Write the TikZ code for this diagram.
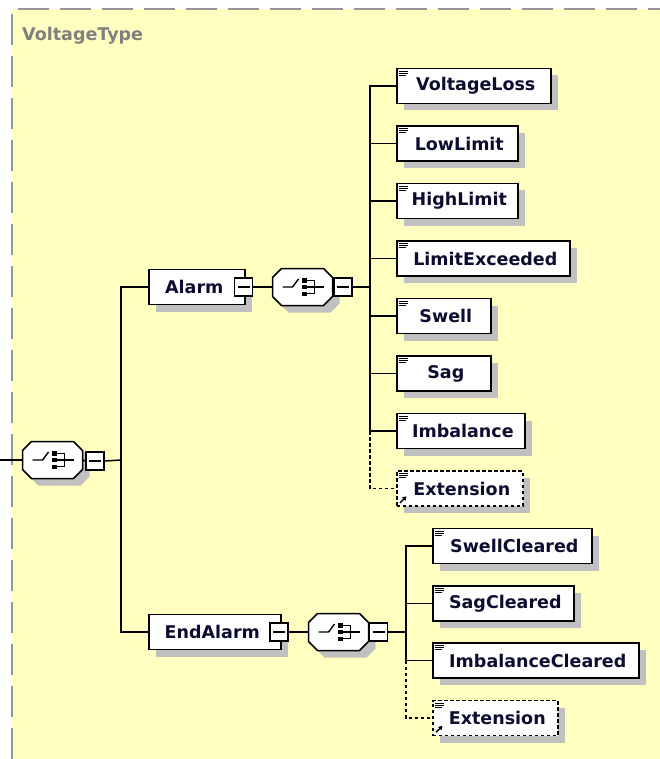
\documentclass[tikz,border=0pt]{standalone}
\usepackage{fontspec}
\setmainfont{DejaVu Sans}
\usetikzlibrary{shadows,calc,arrows.meta}
\definecolor{bgy}{RGB}{255,255,192}
\definecolor{shad}{RGB}{192,192,192}
\definecolor{txt}{RGB}{12,12,50}
\definecolor{bord}{RGB}{150,150,150}
\definecolor{lbl}{RGB}{128,128,128}
\begin{document}
\begin{tikzpicture}[x=1pt,y=-1pt,
  conn/.style={line width=1.5pt},
  dconn/.style={line width=1.5pt, dash pattern=on 3.5pt off 2.5pt},
  elem/.style={draw, line width=1.6pt, fill=white, anchor=west, minimum height=35pt,
    inner sep=0pt, font=\bfseries\fontsize{17.5}{21}\selectfont, text=txt,
    drop shadow={shadow xshift=7pt, shadow yshift=-7pt, fill=shad, opacity=1}},
  extbox/.style={elem, dash pattern=on 3.5pt off 2.5pt},
  minus/.style={draw, line width=1.5pt, fill=white, minimum size=18pt, inner sep=0pt,
    path picture={\draw[line width=1.4pt] ([xshift=-6pt]path picture bounding box.center) -- ([xshift=6pt]path picture bounding box.center);}},
  chbox/.style={minimum width=60pt, minimum height=37pt, inner sep=0pt},
  choice/.pic={
    \fill[shad, shift={(7,7)}] (-21,-18.5) -- (21,-18.5) -- (30,-9.5) -- (30,9.5) -- (21,18.5) -- (-21,18.5) -- (-30,9.5) -- (-30,-9.5) -- cycle;
    \draw[fill=white, line width=1.5pt] (-21,-18.5) -- (21,-18.5) -- (30,-9.5) -- (30,9.5) -- (21,18.5) -- (-21,18.5) -- (-30,9.5) -- (-30,-9.5) -- cycle;
    \draw[line width=1.4pt] (-20,0) -- (-10,0) -- (-4,-8);
    \fill (-1,-9) rectangle (4,-4.5);
    \fill (-1,-2.3) rectangle (4,2.3);
    \fill (-1,4.5) rectangle (4,9);
    \draw[line width=1.4pt] (4,-6.7) -- (12,-6.7) -- (12,6.7) -- (4,6.7);
    \draw[line width=1.4pt] (4,0) -- (21,0);
  },
  elicon/.pic={
    \draw[line width=1pt] (3,3.5) -- (12,3.5) (3,5.5) -- (12,5.5) (3,7.5) -- (10,7.5);
  }
]
\useasboundingbox (0,0) rectangle (660,759);
\fill[bgy] (12,9) rectangle (660,759);
\draw[bord, line width=2pt, dash pattern=on 31pt off 11pt] (12,759) -- (12,9) -- (660,9);
\node[anchor=base west, text=lbl, font=\bfseries\fontsize{17.5}{21}\selectfont, inner sep=0pt] (title) at (22,41) {VoltageType};

% root choice
\coordinate (lft) at (0,460);
\node[chbox] (c0) at (52.5,460) {};
\pic at (c0) {choice};
\node[minus] (m0) at (95,461) {};
\coordinate (j0) at (121,460);
\draw[conn] (lft) -- (c0.west);
\draw[conn] (c0.east) -- (m0.west);
\draw[conn] (m0.east) -- (j0);

% Alarm branch
\node[elem, minimum width=96pt] (alarm) at (148,287) {Alarm\hspace*{5pt}};
\node[minus] (ma) at (243.5,287) {};
\node[chbox] (ca) at (302.5,287) {};
\pic at (ca) {choice};
\node[minus] (mca) at (343,287) {};
\coordinate (ja) at (370,287);
\draw[conn] (j0) |- (alarm.west);
\draw[conn] (ma.east) -- (ca.west);
\draw[conn] (ca.east) -- (mca.west);
\draw[conn] (mca.east) -- (ja);

\node[elem, minimum width=154pt] (e1) at (396,86) {\hspace*{4pt}VoltageLoss};
\node[elem, minimum width=121pt] (e2) at (396,143.5) {\hspace*{4pt}LowLimit};
\node[elem, minimum width=121pt] (e3) at (396,201) {\hspace*{4pt}HighLimit};
\node[elem, minimum width=173pt] (e4) at (396,258.5) {\hspace*{4pt}LimitExceeded};
\node[elem, minimum width=94pt] (e5) at (396,316) {\hspace*{4pt}Swell};
\node[elem, minimum width=94pt] (e6) at (396,373.5) {\hspace*{4pt}Sag};
\node[elem, minimum width=128pt] (e7) at (396,431) {\hspace*{4pt}Imbalance};
\node[extbox, minimum width=126pt] (x1) at (396,488.5) {\hspace*{4pt}Extension};
\foreach \n in {e1,e2,e3,e4,e5,e6,e7,x1} {\pic at (\n.north west) {elicon};}
\draw[-{Triangle[length=4pt,width=4.5pt]}, line width=1.4pt] ($(x1.south west)+(4,-4)$) -- ($(x1.south west)+(10.5,-10.5)$);
\foreach \n in {e1,e2,e3,e4,e5,e6,e7} {\draw[conn] (ja) |- (\n.west);}
\draw[dconn] (e7.west -| ja) |- (x1.west);

% EndAlarm branch
\node[elem, minimum width=132pt] (endalarm) at (148,632) {EndAlarm\hspace*{5pt}};
\node[minus] (me) at (279,632) {};
\node[chbox] (ce) at (338.5,632) {};
\pic at (ce) {choice};
\node[minus] (mce) at (378.5,632) {};
\coordinate (je) at (406,632);
\draw[conn] (j0) |- (endalarm.west);
\draw[conn] (me.east) -- (ce.west);
\draw[conn] (ce.east) -- (mce.west);
\draw[conn] (mce.east) -- (je);

\node[elem, minimum width=159pt] (f1) at (432,546) {\hspace*{4pt}SwellCleared};
\node[elem, minimum width=141pt] (f2) at (432,603.3) {\hspace*{4pt}SagCleared};
\node[elem, minimum width=206pt] (f3) at (432,660.6) {\hspace*{4pt}ImbalanceCleared};
\node[extbox, minimum width=125pt] (x2) at (432,718) {\hspace*{4pt}Extension};
\foreach \n in {f1,f2,f3,x2} {\pic at (\n.north west) {elicon};}
\draw[-{Triangle[length=4pt,width=4.5pt]}, line width=1.4pt] ($(x2.south west)+(4,-4)$) -- ($(x2.south west)+(10.5,-10.5)$);
\foreach \n in {f1,f2,f3} {\draw[conn] (je) |- (\n.west);}
\draw[dconn] (f3.west -| je) |- (x2.west);
\end{tikzpicture}
\end{document}
